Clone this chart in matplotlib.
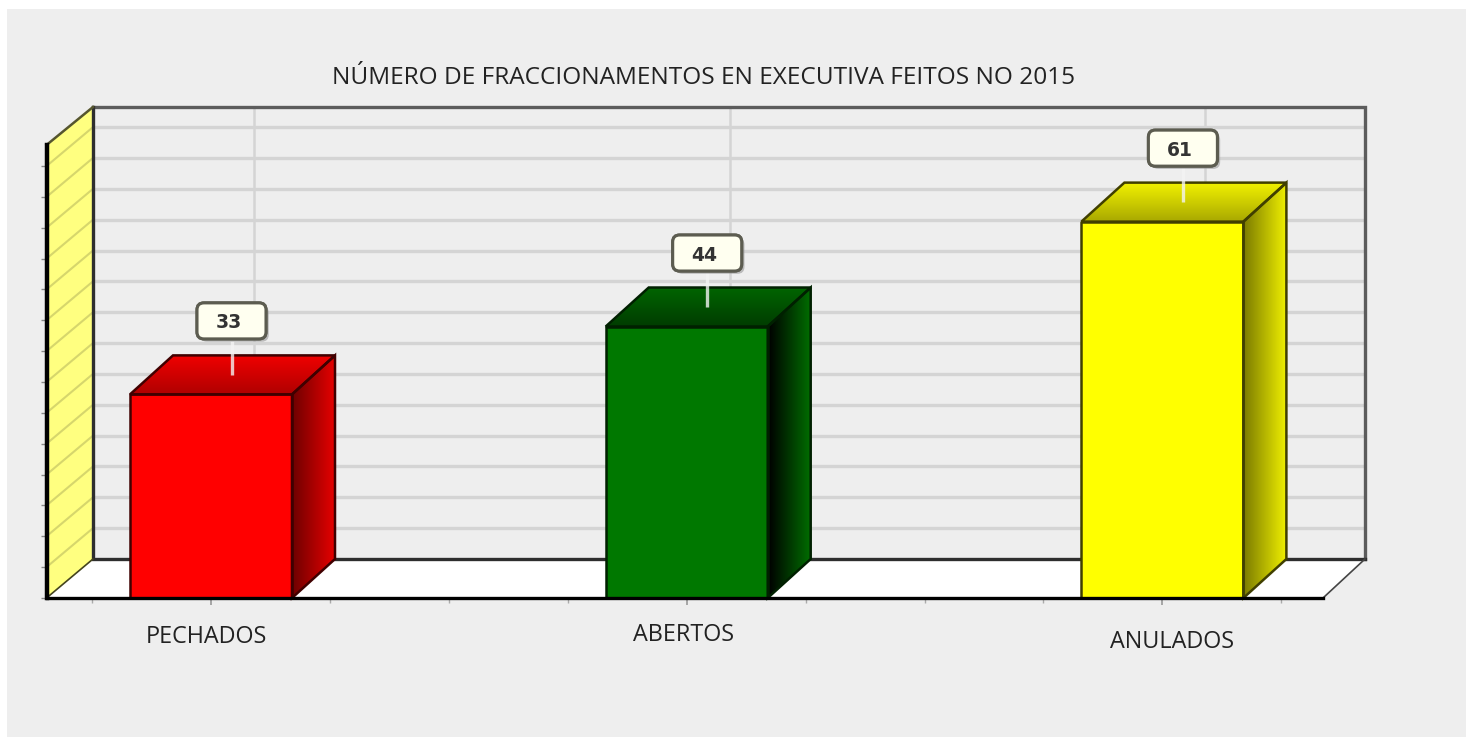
import numpy as np
import matplotlib
matplotlib.use('Agg')
import matplotlib.pyplot as plt
import matplotlib.patheffects as pe
from matplotlib.colors import to_rgb
from matplotlib.patches import FancyBboxPatch, Polygon, Rectangle

title = 'NÚMERO DE FRACCIONAMENTOS EN EXECUTIVA FEITOS NO 2015'
categories = ['PECHADOS', 'ABERTOS', 'ANULADOS']
values = [33, 44, 61]

front_colors = ['#ff0000', '#007800', '#ffff00']
edge_colors = ['#400000', '#002000', '#403f00']
side_dark = ['#6e0000', '#000000', '#7a7a00']
side_light = ['#e80000', '#007000', '#f0f000']
top_dark = ['#b00000', '#003c00', '#a8a800']
top_light = ['#f00000', '#006400', '#f0f000']

W, H = 1466, 737
FONT = 'Open Sans'

# pixels per axis unit
px_x = 475.7
px_y = 6.17
left_px, right_px = 46.5, 1323
base_px, top_px = 598, 145
center0_px = 211

depth_x = 43 / px_x
depth_y = 39 / px_y
bar_width = 162 / px_x
back_left = (93 - center0_px) / px_x
back_right = (1365 - center0_px) / px_x
back_top = (base_px - 107) / px_y


def gradient(ax, poly, start, end, vertical, zorder):
    """Fill a polygon with a two colour gradient."""
    t = np.linspace(0, 1, 64)
    rgb = np.outer(1 - t, to_rgb(start)) + np.outer(t, to_rgb(end))
    img = rgb[:, None, :] if vertical else rgb[None, :, :]
    xs, ys = zip(*poly)
    im = ax.imshow(img, extent=(min(xs), max(xs), min(ys), max(ys)), origin='lower',
                   aspect='auto', zorder=zorder, interpolation='bilinear')
    patch = Polygon(poly, closed=True, transform=ax.transData)
    im.set_clip_path(patch)


def draw_walls(ax, xmin, xmax):
    # left wall and floor
    ax.add_patch(Polygon([(back_left, depth_y), (xmin, 0), (xmin, top_value), (back_left, back_top)],
                         closed=True, fc='#ffff80', ec='none', zorder=1, clip_on=False))
    ax.add_patch(Polygon([(xmin, 0), (xmax, 0), (back_right, depth_y), (back_left, depth_y)],
                         closed=True, fc='white', ec='none', zorder=1, clip_on=False))
    ticks = np.arange(5, 75, 5)
    for v in ticks:
        ax.plot([back_left, back_right], [v + depth_y, v + depth_y], color='#d4d4d4', lw=2.4,
                zorder=1.5, clip_on=False, solid_capstyle='butt')
        ax.plot([xmin, back_left], [v, v + depth_y], color='#d6d66c', lw=1.5, zorder=1.5,
                clip_on=False)
    for i in range(len(categories)):
        ax.plot([i + depth_x, i + depth_x], [depth_y, back_top], color='#d4d4d4', lw=1.8, zorder=1.6,
                clip_on=False)
    ax.plot([back_left, back_right, back_right], [back_top, back_top, depth_y], color='#5c5c5c',
            lw=2.4, zorder=2, clip_on=False, solid_joinstyle='miter')
    ax.plot([back_left, back_left, back_right], [back_top, depth_y, depth_y], color='#2e2e2e',
            lw=2.4, zorder=2, clip_on=False, solid_joinstyle='miter')
    ax.plot([xmin, back_left], [top_value, back_top], color='#55552e', lw=1.8, zorder=2, clip_on=False)
    ax.plot([xmax, back_right], [0, depth_y], color='#444444', lw=1.2, zorder=2, clip_on=False)
    ax.plot([xmin, back_left], [0, depth_y], color='#44441e', lw=1.2, zorder=2, clip_on=False)


def draw_bar(ax, i, value):
    x0, x1 = i - bar_width / 2, i + bar_width / 2
    top = [(x0, value), (x1, value), (x1 + depth_x, value + depth_y), (x0 + depth_x, value + depth_y)]
    side = [(x1, 0), (x1 + depth_x, depth_y), (x1 + depth_x, value + depth_y), (x1, value)]
    gradient(ax, top, top_dark[i], top_light[i], True, 4)
    gradient(ax, side, side_dark[i], side_light[i], False, 4)
    ax.add_patch(Rectangle((x0, 0), bar_width, value, fc=front_colors[i], ec='none', zorder=4.1))
    ec = edge_colors[i]
    for poly in (top, side):
        ax.add_patch(Polygon(poly, closed=True, fc='none', ec=ec, lw=1.8, zorder=4.2, clip_on=False))
    ax.plot([x0, x0, x1, x1], [0, value, value, 0], color=ec, lw=1.8, zorder=4.3, clip_on=False)


def draw_label(ax, i, value):
    xc = i + depth_x / 2 - 1 / px_x
    yc = value + depth_y / 2
    ax.plot([xc, xc], [yc, yc + 36 / px_y], color='#f4f4f4', alpha=0.8, lw=2.4, zorder=5,
            clip_on=False, solid_capstyle='butt')
    w, h = 69 / px_x, 36 / px_y
    cy = yc + 54 / px_y
    box = FancyBboxPatch((xc - w / 2, cy - h / 2), w, h,
                         boxstyle='round,pad=0,rounding_size=%g' % (7 / px_x),
                         mutation_aspect=px_x / px_y, fc='#fffff0', ec='#5c5c50', lw=2.2,
                         zorder=6, clip_on=False)
    box.set_path_effects([pe.withSimplePatchShadow(offset=(2, -2), shadow_rgbFace='#999999', alpha=0.6),
                          pe.Normal()])
    ax.add_patch(box)
    ax.text(xc - 3 / px_x, cy, str(value), ha='center', va='center_baseline', color='#333333',
            fontsize=13.5, fontweight='bold', family='DejaVu Sans', zorder=7)


fig = plt.figure(figsize=(W / 100, H / 100), dpi=100, facecolor='white')
fig.patches.append(Rectangle((7 / W, 0), 1 - 7 / W, 1 - 9 / H, transform=fig.transFigure,
                             fc='#eeeeee', ec='none', zorder=-5))

ax = fig.add_axes([left_px / W, 1 - base_px / H, (right_px - left_px) / W, (base_px - top_px) / H])
ax.patch.set_visible(False)
xmin = (left_px - center0_px) / px_x
xmax = (right_px - center0_px) / px_x
top_value = (base_px - top_px) / px_y

draw_walls(ax, xmin, xmax)
for k, val in enumerate(values):
    draw_bar(ax, k, val)
    draw_label(ax, k, val)

ax.set_xlim(xmin, xmax)
ax.set_ylim(0, top_value)

for name in ('top', 'right'):
    ax.spines[name].set_visible(False)
ax.spines['left'].set_linewidth(3.2)
ax.spines['bottom'].set_linewidth(2.4)
ax.spines['left'].set_zorder(3)
ax.spines['bottom'].set_zorder(4.5)

ax.set_xticks(range(len(categories)))
ax.set_xticklabels([])
ax.set_xticks([-0.25, 0.25, 0.5, 0.75, 1.25, 1.5, 1.75, 2.25], minor=True)
ax.set_yticks(np.arange(0, 75, 5))
ax.set_yticks(np.arange(0, 74, 1), minor=True)
ax.set_yticklabels([])
ax.tick_params(axis='x', which='major', length=5, width=1.2, color='#999999')
ax.tick_params(axis='x', which='minor', length=3.5, width=1, color='#aaaaaa')
ax.tick_params(axis='y', which='major', length=4, width=1, color='#888888')
ax.tick_params(axis='y', which='minor', length=1.5, width=0.8, color='#555555')

label_dx = [-5, -3, 10]
label_dy = [39, 37, 44]
for k, name in enumerate(categories):
    ax.annotate(name, xy=(k, 0), xytext=(label_dx[k], -label_dy[k]), textcoords='offset pixels',
                ha='center', va='center', fontsize=16.8, family=FONT, color='#222222')

fig.text(704 / W, 1 - 78 / H, title, ha='center', va='center', fontsize=17.6, family=FONT,
         color='#222222')

fig.savefig('out.png', dpi=100, facecolor=fig.get_facecolor())
